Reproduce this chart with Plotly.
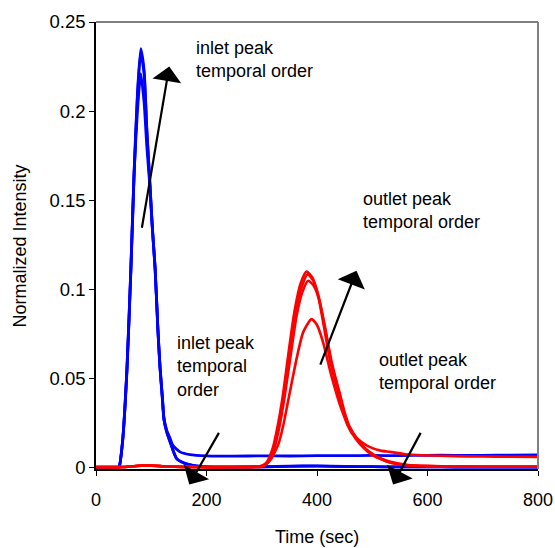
import plotly.graph_objects as go

# ---------------- data ----------------
# Inlet (blue) peaks
blue_a_t = [0, 20, 40, 42, 48, 56, 63, 69, 75, 81, 87, 92, 97, 102, 107, 112, 116, 120, 123, 128, 134,
            146, 160, 175, 200, 250, 300, 350, 400, 450, 500, 550, 600, 650, 700, 750, 800]
blue_a_v = [0.0, 0.0, 0.0, 0.0005, 0.0145, 0.0554, 0.111, 0.166, 0.21, 0.235, 0.223, 0.19, 0.163, 0.135,
            0.112, 0.078, 0.056, 0.04, 0.027, 0.02, 0.0145,
            0.005, 0.0025, 0.0013, 0.0004, 0.0003, 0.0004, 0.0008, 0.0009, 0.0006, 0.0005, 0.0004, 0.0004,
            0.0003, 0.0003, 0.0003, 0.0003]

blue_c_t = [0, 20, 40, 42, 48, 56, 63, 69, 75, 81, 87, 92, 97, 102, 107, 112, 116, 120, 123, 128, 134,
            146, 160, 175, 200, 250, 300, 350, 400, 450, 500, 550, 600, 650, 700, 750, 800]
blue_c_v = [0.0, 0.0, 0.0, 0.0005, 0.014, 0.054, 0.109, 0.164, 0.208, 0.233, 0.221, 0.189, 0.162, 0.134,
            0.111, 0.077, 0.055, 0.039, 0.027, 0.02, 0.0145,
            0.005, 0.0024, 0.0012, 0.0004, 0.0003, 0.0004, 0.0007, 0.0008, 0.0006, 0.0005, 0.0004, 0.0004,
            0.0003, 0.0003, 0.0003, 0.0003]

blue_b_t = [0, 20, 40, 42, 48, 56, 63, 69, 75, 81, 87, 92, 97, 102, 107, 112, 116, 120, 123, 128, 134,
            139, 152, 170, 200, 250, 300, 350, 400, 450, 500, 550, 600, 650, 700, 750, 800]
blue_b_v = [0.0, 0.0, 0.0, 0.0005, 0.0145, 0.0554, 0.111, 0.166, 0.2, 0.221, 0.205, 0.18, 0.16, 0.134,
            0.112, 0.078, 0.056, 0.04, 0.028, 0.021, 0.0165,
            0.0125, 0.0088, 0.0073, 0.0066, 0.0064, 0.0066, 0.0065, 0.0067, 0.0067, 0.0068, 0.0067, 0.0069,
            0.0069, 0.0069, 0.007, 0.0071]

# Outlet (red) peaks
red_1_t = [0, 50, 90, 130, 180, 250, 290, 300, 309, 320, 329, 338, 347, 354, 360, 370, 381, 391, 401,
           412, 423, 430, 438, 447, 456, 470, 483, 500, 514, 530, 562, 600, 650, 700, 750, 800]
red_1_v = [0.0003, 0.0003, 0.0013, 0.0006, 0.0003, 0.0003, 0.0005, 0.001, 0.003, 0.011, 0.0236, 0.04,
           0.061, 0.077, 0.089, 0.103, 0.110, 0.107, 0.098, 0.08, 0.061, 0.052, 0.0425, 0.032, 0.0235,
           0.0162, 0.0115, 0.007, 0.005, 0.003, 0.0013, 0.0008, 0.0006, 0.0005, 0.0005, 0.0005]

red_2_t = [0, 50, 90, 130, 180, 250, 290, 302, 311, 322, 331, 340, 349, 356, 362, 372, 383, 393, 403,
           414, 425, 432, 440, 449, 458, 472, 485, 502, 516, 532, 564, 600, 650, 700, 750, 800]
red_2_v = [0.0003, 0.0003, 0.0012, 0.0006, 0.0003, 0.0003, 0.0005, 0.001, 0.003, 0.011, 0.0236, 0.04,
           0.06, 0.076, 0.088, 0.101, 0.1085, 0.105, 0.096, 0.079, 0.06, 0.051, 0.042, 0.031, 0.023,
           0.016, 0.0112, 0.007, 0.0048, 0.003, 0.0013, 0.0008, 0.0006, 0.0005, 0.0005, 0.0005]

red_3_t = [0, 50, 90, 130, 180, 250, 290, 303, 312, 323, 332, 341, 350, 357, 363, 373, 384, 394, 404,
           415, 426, 433, 441, 450, 459, 473, 486, 503, 517, 533, 565, 600, 650, 700, 750, 800]
red_3_v = [0.0003, 0.0003, 0.0012, 0.0006, 0.0003, 0.0003, 0.0005, 0.001, 0.003, 0.011, 0.023, 0.039,
           0.058, 0.073, 0.085, 0.098, 0.1048, 0.102, 0.094, 0.078, 0.06, 0.051, 0.042, 0.031, 0.023,
           0.016, 0.0112, 0.0072, 0.005, 0.0032, 0.0014, 0.0008, 0.0006, 0.0005, 0.0005, 0.0005]

red_4_t = [0, 50, 90, 130, 180, 250, 300, 315, 330, 339, 350, 363, 375, 390, 400, 411, 426, 444, 462,
           480, 496, 515, 532, 560, 592, 650, 700, 750, 800]
red_4_v = [0.0003, 0.0003, 0.0013, 0.0006, 0.0003, 0.0003, 0.0005, 0.004, 0.013, 0.0237, 0.041, 0.061,
           0.076, 0.0833, 0.08, 0.0703, 0.0516, 0.033, 0.020, 0.0145, 0.0115, 0.0095, 0.0088, 0.0075,
           0.0069, 0.0064, 0.0062, 0.0061, 0.006]

blue_series = [(blue_b_t, blue_b_v), (blue_c_t, blue_c_v), (blue_a_t, blue_a_v)]
red_series = [(red_4_t, red_4_v), (red_3_t, red_3_v), (red_2_t, red_2_v), (red_1_t, red_1_v)]

x_ticks = [0, 200, 400, 600, 800]
y_ticks = [0, 0.05, 0.1, 0.15, 0.2, 0.25]

# annotation text / arrows (tail -> head, data coords)
arrows = [
    ((82.6, 0.1337), (132.6, 0.225)),
    ((405, 0.0569), (471.5, 0.1104)),
    ((224, 0.0203), (168.8, -0.0095)),
    ((589, 0.0203), (537.7, -0.0095)),
]
labels = [
    (177.2, 0.2287, "inlet peak<br>temporal order"),
    (480.5, 0.1441, "outlet peak<br>temporal order"),
    (142.9, 0.0569, "inlet peak<br>temporal<br>order"),
    (507.7, 0.0540, "outlet peak<br>temporal order"),
]

FONT = "Liberation Sans, Arial, sans-serif"

fig = go.Figure()
for t, v in blue_series:
    fig.add_trace(go.Scatter(x=t, y=v, mode="lines", line=dict(color="#0000FF", width=2.8, shape="spline", smoothing=0.6),
                             showlegend=False, hoverinfo="skip"))
for t, v in red_series:
    fig.add_trace(go.Scatter(x=t, y=v, mode="lines", line=dict(color="#FF0000", width=2.6, shape="spline", smoothing=0.6),
                             showlegend=False, hoverinfo="skip"))

annotations = []
for (tx, ty), (hx, hy) in arrows:
    annotations.append(dict(x=hx, y=hy, ax=tx, ay=ty, xref="x", yref="y", axref="x", ayref="y",
                            text="", showarrow=True, arrowhead=1, arrowsize=2.2, arrowwidth=2.2,
                            arrowcolor="black"))
for x, y, txt in labels:
    annotations.append(dict(x=x, y=y, xref="x", yref="y", text=txt, showarrow=False, xanchor="left",
                            yanchor="middle", align="left", font=dict(size=18, color="black", family=FONT)))
annotations.append(dict(x=-0.172, y=0.5, xref="paper", yref="paper", text="Normalized Intensity",
                        textangle=-90, showarrow=False, xanchor="center", yanchor="middle",
                        font=dict(size=18, color="black", family=FONT)))
annotations.append(dict(x=0.5, y=-0.153, xref="paper", yref="paper", text="Time (sec)",
                        showarrow=False, xanchor="center", yanchor="middle",
                        font=dict(size=18, color="black", family=FONT)))

fig.update_layout(
    width=555, height=548,
    margin=dict(l=96, r=17, t=22, b=79, autoexpand=False),
    paper_bgcolor="white", plot_bgcolor="white",
    font=dict(family=FONT, size=18, color="black"),
    annotations=annotations,
    shapes=[
        dict(type="line", xref="paper", yref="paper", x0=0, y0=1, x1=1, y1=1, line=dict(color="#808080", width=2)),
        dict(type="line", xref="paper", yref="paper", x0=1, y0=0, x1=1, y1=1, line=dict(color="#808080", width=2)),
    ],
)
fig.update_xaxes(range=[0, 800], tickvals=x_ticks, ticks="outside", ticklen=5, tickcolor="black",
                 showline=True, linecolor="black", linewidth=1.5, showgrid=False, zeroline=False,
                 automargin=False, ticklabelstandoff=9,
                 tickfont=dict(size=18, family=FONT, color="black"))
fig.update_yaxes(range=[-0.0008, 0.25], tickvals=y_ticks, ticks="outside", ticklen=5, tickcolor="black",
                 showline=True, linecolor="black", linewidth=1.5, showgrid=False, zeroline=False,
                 automargin=False,
                 tickfont=dict(size=18.5, family=FONT, color="black"))

fig.write_html("out.html")
